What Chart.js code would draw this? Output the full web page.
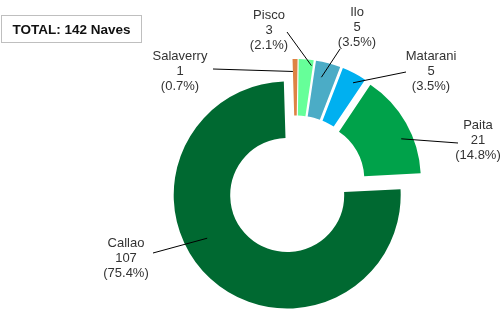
<!DOCTYPE html>
<html>
<head>
<meta charset="utf-8">
<script src="https://cdn.jsdelivr.net/npm/chart.js@4/dist/chart.umd.min.js"></script>
<style>
  body { margin: 0; background: #fff; }
  #wrap { position: relative; width: 502px; height: 309px; }
  #total {
    position: absolute; left: 1px; top: 15px; width: 141px; height: 28px;
    border: 1px solid #bfbfbf; box-sizing: border-box;
    font: bold 13.5px "Liberation Sans", Arial, sans-serif; color: #111;
    line-height: 27px; text-align: center;
  }
</style>
</head>
<body>
<div id="wrap">
  <canvas id="pie" width="502" height="309"></canvas>
  <div id="total">TOTAL: 142 Naves</div>
</div>
<script>
// data
const ports = ['Salaverry', 'Pisco', 'Ilo', 'Matarani', 'Paita', 'Callao'];
const ships = [1, 3, 5, 5, 21, 107];
const colors = ['#DE8344', '#66FF99', '#4BACC6', '#00B0F0', '#00A24A', '#006931'];

// label layout: text centre (x, y of middle line), leader start, and where
// the leader ends inside the slice (fraction along arc, fraction across ring)
const labelPos = [
  { x: 180, y: 71, lx: 213, ly: 69, fa: 0.0, fr: 0.78 },
  { x: 269, y: 30, lx: 287, ly: 32, fa: 0.9, fr: 0.9 },
  { x: 357, y: 27, lx: 340, ly: 49, fa: 0.36, fr: 0.73 },
  { x: 431, y: 71, lx: 406, ly: 72, fa: 0.64, fr: 0.84 },
  { x: 478, y: 140, lx: 458, ly: 143, fa: 0.62, fr: 0.8 },
  { x: 126, y: 258, lx: 153, ly: 253, fa: 0.57, fr: 0.6 }
];

const EXPLODE = 13;
const total = ships.reduce((a, b) => a + b, 0);

// pull every slice out along its bisector
const explode = {
  id: 'explode',
  beforeDatasetsDraw(chart) {
    const a = chart.chartArea;
    const cx = (a.left + a.right) / 2, cy = (a.top + a.bottom) / 2;
    chart.getDatasetMeta(0).data.forEach(arc => {
      const mid = (arc.startAngle + arc.endAngle) / 2;
      arc.x = cx + EXPLODE * Math.cos(mid);
      arc.y = cy + EXPLODE * Math.sin(mid);
    });
  }
};

const labels = {
  id: 'labels',
  afterDatasetsDraw(chart) {
    const ctx = chart.ctx;
    ctx.save();
    chart.getDatasetMeta(0).data.forEach((arc, i) => {
      const p = labelPos[i];
      const ang = arc.startAngle + p.fa * (arc.endAngle - arc.startAngle);
      const r = arc.innerRadius + p.fr * (arc.outerRadius - arc.innerRadius);
      ctx.strokeStyle = '#000';
      ctx.lineWidth = 1;
      ctx.beginPath();
      ctx.moveTo(p.lx, p.ly);
      ctx.lineTo(arc.x + r * Math.cos(ang), arc.y + r * Math.sin(ang));
      ctx.stroke();

      const pct = (ships[i] / total * 100).toFixed(1);
      const lines = [ports[i], String(ships[i]), '(' + pct + '%)'];
      ctx.fillStyle = '#333';
      ctx.font = '13px "Liberation Sans", Arial, sans-serif';
      ctx.textAlign = 'center';
      ctx.textBaseline = 'middle';
      lines.forEach((t, k) => ctx.fillText(t, p.x, p.y + (k - 1) * 15));
    });
    ctx.restore();
  }
};

new Chart(document.getElementById('pie'), {
  type: 'doughnut',
  data: {
    labels: ports,
    datasets: [{
      data: ships,
      backgroundColor: colors,
      borderWidth: 0
    }]
  },
  options: {
    responsive: false,
    devicePixelRatio: 1,
    animation: false,
    rotation: -1.7,
    radius: 113.5,
    cutout: '50.2%',
    layout: { padding: { left: 90, top: 62, right: 0, bottom: 0 } },
    plugins: {
      legend: { display: false },
      tooltip: { enabled: false }
    }
  },
  plugins: [explode, labels]
});
</script>
</body>
</html>
